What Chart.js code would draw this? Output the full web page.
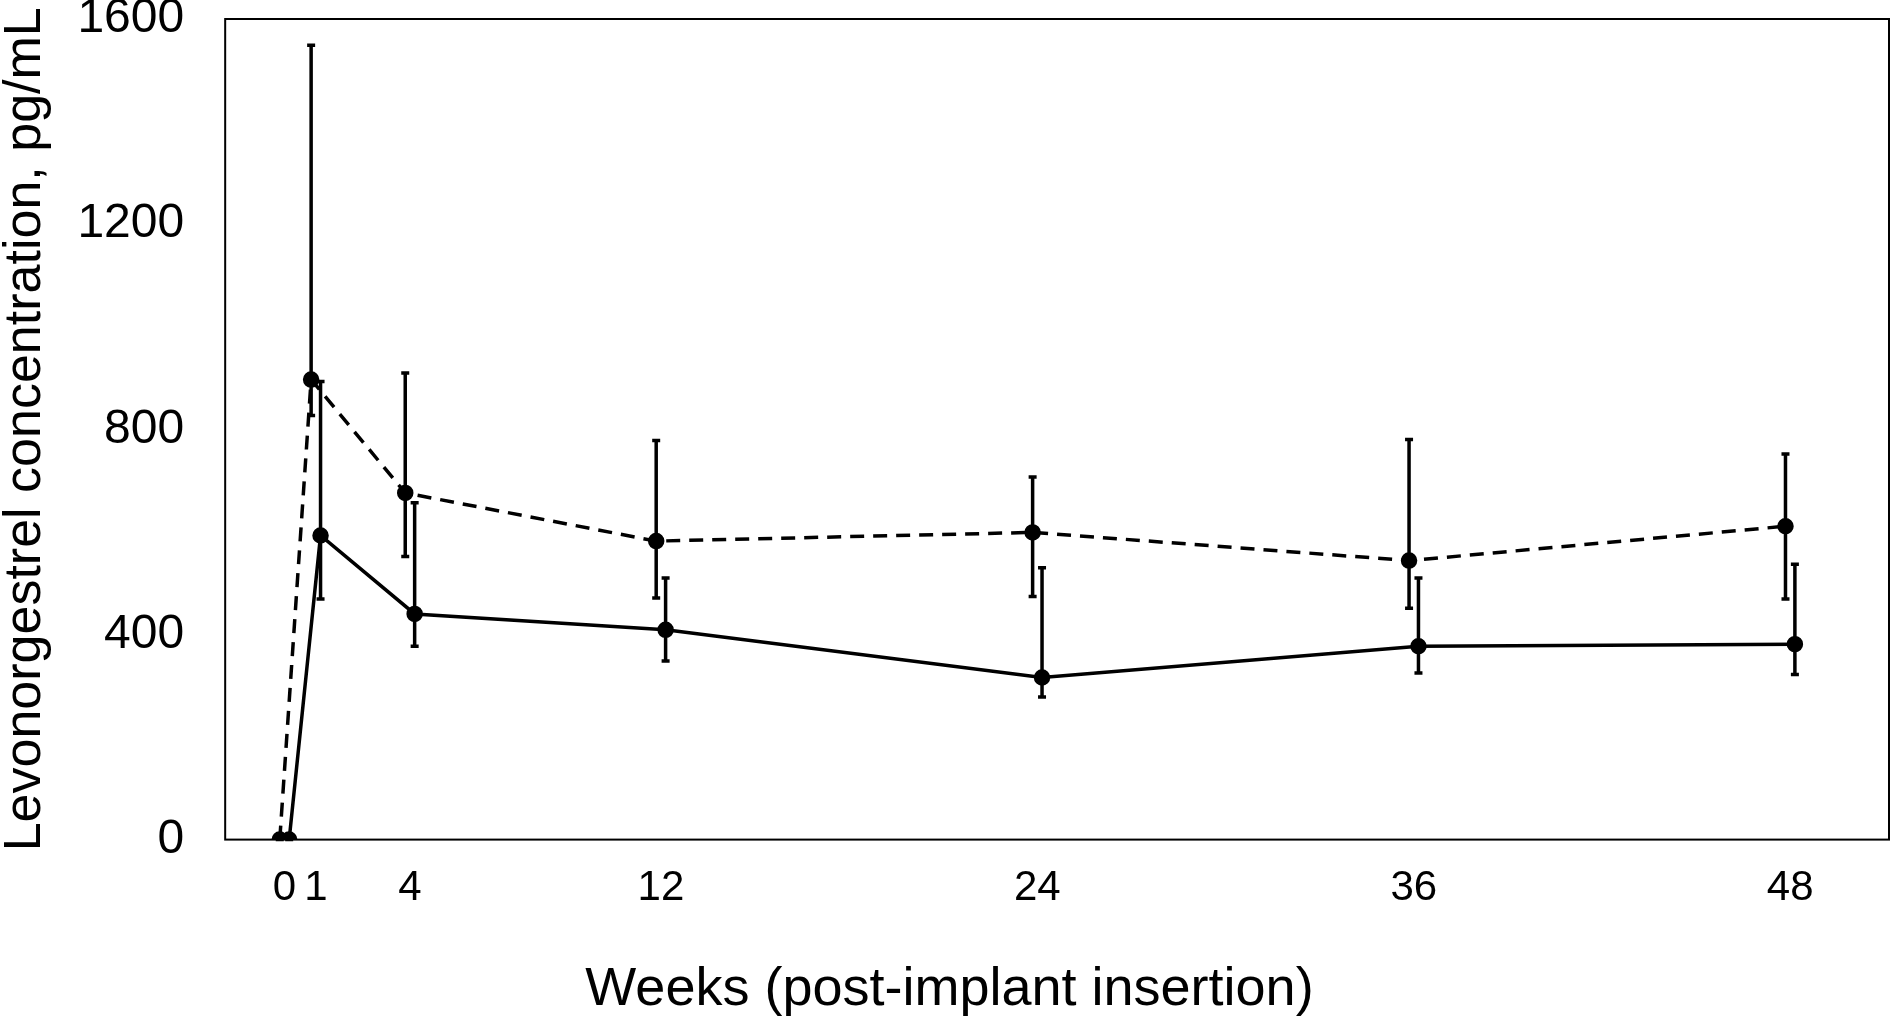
<!DOCTYPE html>
<html>
<head>
<meta charset="utf-8">
<script src="https://cdn.jsdelivr.net/npm/chart.js@4.4.1/dist/chart.umd.min.js"></script>
<style>
  html, body { margin: 0; padding: 0; background: #fff; }
  #wrap { width: 1899px; height: 1017px; }
</style>
</head>
<body>
<div id="wrap"><canvas id="canvas"></canvas></div>
<script>
// weeks after implant insertion
var weeks = [0, 1, 4, 12, 24, 36, 48];
var weekTicks = [0, 1, 4, 12, 24, 36, 48];
var yTicks = [0, 400, 800, 1200, 1600];

// dashed series (mean, upper and lower error bar ends)
var dashMean  = [0, 897, 676, 582, 599, 544, 611];
var dashUpper = [0, 1549, 910, 778, 707, 780, 752];
var dashLower = [0, 827, 552, 471, 474, 451, 469];

// solid series
var solidMean  = [0, 593, 440, 409, 316, 377, 381];
var solidUpper = [0, 893, 657, 510, 530, 510, 537];
var solidLower = [0, 469, 377, 348, 278, 325, 322];

var shift = 0.15; // small sideways nudge so the two series don't overlap

function pts(means, d) {
	return weeks.map(function(w, i) { return { x: w + d, y: means[i] }; });
}

var errBars = {
	id: 'errBars',
	afterDatasetsDraw: function(chart) {
		var ctx = chart.ctx;
		var xs = chart.scales.x, ys = chart.scales.y;
		var sets = [
			{ d: -shift, up: dashUpper, lo: dashLower },
			{ d: shift, up: solidUpper, lo: solidLower }
		];
		ctx.save();
		ctx.strokeStyle = '#000';
		ctx.lineWidth = 3.5;
		sets.forEach(function(s) {
			weeks.forEach(function(w, i) {
				var x = xs.getPixelForValue(w + s.d);
				var y1 = ys.getPixelForValue(s.up[i]);
				var y2 = ys.getPixelForValue(s.lo[i]);
				ctx.beginPath();
				ctx.moveTo(x, y1); ctx.lineTo(x, y2);
				ctx.moveTo(x - 4, y1); ctx.lineTo(x + 4, y1);
				ctx.moveTo(x - 4, y2); ctx.lineTo(x + 4, y2);
				ctx.stroke();
			});
		});
		ctx.restore();
	}
};

var frame = {
	id: 'frame',
	afterDraw: function(chart) {
		var a = chart.chartArea, ctx = chart.ctx;
		ctx.save();
		ctx.strokeStyle = '#000';
		ctx.lineWidth = 2;
		ctx.strokeRect(a.left, a.top, a.right - a.left, a.bottom - a.top);
		ctx.restore();
	}
};

var font = "'Liberation Sans', Arial, sans-serif";

var ctx = document.getElementById('canvas').getContext('2d');
var chart = new Chart(ctx, {
	type: 'scatter',
	data: {
		datasets: [
			{
				label: 'dashed',
				data: pts(dashMean, -shift),
				showLine: true,
				borderColor: '#000',
				backgroundColor: '#000',
				borderWidth: 3.5,
				borderDash: [14, 9],
				pointRadius: 6.5,
				pointHoverRadius: 6.5
			},
			{
				label: 'solid',
				data: pts(solidMean, shift),
				showLine: true,
				borderColor: '#000',
				backgroundColor: '#000',
				borderWidth: 3.5,
				pointRadius: 6.5,
				pointHoverRadius: 6.5
			}
		]
	},
	plugins: [errBars, frame],
	options: {
		responsive: true,
		maintainAspectRatio: false,
		animation: false,
		layout: { padding: { left: 0, right: 0, top: 19, bottom: 0 } },
		plugins: {
			legend: { display: false },
			tooltip: { enabled: false },
			title: {
				display: true,
				position: 'bottom',
				text: 'Weeks (post-implant insertion)',
				color: '#000',
				font: { family: font, size: 54, weight: 'normal', lineHeight: 1.0 },
				padding: { top: 25, bottom: 0 }
			}
		},
		scales: {
			x: {
				type: 'linear',
				min: -1.89,
				max: 51.15,
				afterBuildTicks: function(axis) {
					axis.ticks = weekTicks.map(function(v) { return { value: v }; });
				},
				afterFit: function(axis) {
					axis.paddingLeft = 0;
					axis.paddingRight = 0;
				},
				grid: { display: false, drawTicks: false },
				border: { display: false },
				ticks: {
					color: '#000',
					padding: 24,
					maxRotation: 0,
					autoSkip: false,
					font: { family: font, size: 42 }
				}
			},
			y: {
				min: 0,
				max: 1600,
				afterBuildTicks: function(axis) {
					axis.ticks = yTicks.map(function(v) { return { value: v }; });
				},
				afterFit: function(axis) {
					axis.paddingTop = 0;
					axis.paddingBottom = 0;
				},
				grid: { display: false, drawTicks: false },
				border: { display: false },
				ticks: {
					color: '#000',
					padding: 41,
					font: { family: font, size: 48 },
					callback: function(v) { return String(v); }
				},
				title: {
					display: true,
					text: 'Levonorgestrel concentration, pg/mL',
					color: '#000',
					font: { family: font, size: 52 },
					padding: { top: -6, bottom: -20 }
				}
			}
		}
	}
});
</script>
</body>
</html>
